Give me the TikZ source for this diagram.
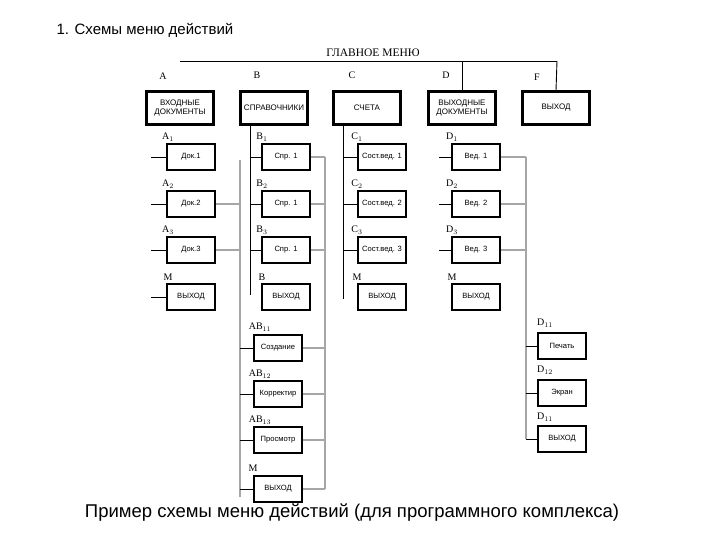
\documentclass[tikz,border=0pt]{standalone}
\usepackage{fontspec}
\setmainfont{Liberation Serif}
\newfontfamily\sfx{Liberation Sans}
\begin{document}
\begin{tikzpicture}[x=1pt,y=-1pt,
  top/.style={draw,line width=2.2pt,minimum width=67pt,minimum height=33pt,inner sep=0pt,font=\sfx\fontsize{8}{9}\selectfont,align=center},
  sub/.style={draw,line width=2.2pt,minimum width=48pt,minimum height=26pt,inner sep=0pt,font=\sfx\fontsize{7.6}{8}\selectfont},
  lab/.style={font=\fontsize{10}{11}\selectfont,inner sep=0pt},
  ln/.style={line width=0.9pt},
  gl/.style={line width=1.2pt,gray!70}]
\useasboundingbox (0,0) rectangle (720,540);
\node[anchor=west,font=\sfx\fontsize{15}{17}\selectfont] (title) at (53,30) {1. Схемы меню действий};
\node[font=\sfx\fontsize{18.5}{21}\selectfont] (cap) at (352,513) {Пример схемы меню действий (для программного комплекса)};
\node[lab,font=\fontsize{11.5}{12}\selectfont] (gm) at (373,53) {ГЛАВНОЕ МЕНЮ};
\coordinate (tl) at (180,61); \coordinate (tr) at (557,61); \coordinate (tm) at (462,61);
\coordinate (xB) at (250,0); \coordinate (xC) at (343,0); \coordinate (xG) at (240,0);
\coordinate (xR) at (325,0); \coordinate (xD) at (526,0);
% top boxes
\node[top] (A) at (180,108) {ВХОДНЫЕ\\ДОКУМЕНТЫ};
\node[top] (B) at (274,108) {СПРАВОЧНИКИ};
\node[top] (C) at (367,108) {СЧЕТА};
\node[top] (D) at (462,108) {ВЫХОДНЫЕ\\ДОКУМЕНТЫ};
\node[top] (F) at (556,108) {ВЫХОД};
\node[lab] (lA) at (163,76) {A};
\node[lab] (lB) at (257,75) {B};
\node[lab] (lC) at (352,75) {C};
\node[lab] (lD) at (446,75) {D};
\node[lab] (lF) at (537,77) {F};
\draw[ln] (tl) -- (tr);
\draw[ln] (tm) -- (D.north);
\draw[ln] (tr) -- (F.north);
% sub boxes
\node[sub] (a1) at (191,157) {Док.1};
\node[sub] (a2) at (191,204) {Док.2};
\node[sub] (a3) at (191,250) {Док.3};
\node[sub] (a4) at (191,297) {ВЫХОД};
\node[sub] (b1) at (286,157) {Спр. 1};
\node[sub] (b2) at (286,204) {Спр. 1};
\node[sub] (b3) at (286,250) {Спр. 1};
\node[sub] (b4) at (286,297) {ВЫХОД};
\node[sub] (c1) at (382,157) {Сост.вед. 1};
\node[sub] (c2) at (382,204) {Сост.вед. 2};
\node[sub] (c3) at (382,250) {Сост.вед. 3};
\node[sub] (c4) at (382,297) {ВЫХОД};
\node[sub] (d1) at (476,157) {Вед. 1};
\node[sub] (d2) at (476,204) {Вед. 2};
\node[sub] (d3) at (476,250) {Вед. 3};
\node[sub] (d4) at (476,297) {ВЫХОД};
\node[sub] (e1) at (278,348) {Создание};
\node[sub] (e2) at (278,394) {Корректир};
\node[sub] (e3) at (278,440) {Просмотр};
\node[sub] (e4) at (278,489) {ВЫХОД};
\node[sub] (f1) at (562,346) {Печать};
\node[sub] (f2) at (562,393) {Экран};
\node[sub] (f3) at (562,439) {ВЫХОД};
% labels
\node[lab] at (168,137) {A$_1$};
\node[lab] at (168,184) {A$_2$};
\node[lab] at (168,230) {A$_3$};
\node[lab] at (168,277) {M};
\node[lab] at (262,137) {B$_1$};
\node[lab] at (262,184) {B$_2$};
\node[lab] at (262,230) {B$_3$};
\node[lab] at (262,277) {B};
\node[lab] at (357,137) {C$_1$};
\node[lab] at (357,184) {C$_2$};
\node[lab] at (357,230) {C$_3$};
\node[lab] at (357,277) {M};
\node[lab] at (452,137) {D$_1$};
\node[lab] at (452,184) {D$_2$};
\node[lab] at (452,230) {D$_3$};
\node[lab] at (452,277) {M};
\node[lab] at (260,327) {AB$_{11}$};
\node[lab] at (260,374) {AB$_{12}$};
\node[lab] at (260,420) {AB$_{13}$};
\node[lab] at (253,468) {M};
\node[lab] at (545,323) {D$_{11}$};
\node[lab] at (545,370) {D$_{12}$};
\node[lab] at (545,417) {D$_{11}$};
% A stubs
\foreach \n in {a1,a2,a3,a4}{\draw[ln] (\n.west) -- ++(-15,0);}
% B trunk
\draw[ln] (B.south -| xB) -- ++(0,169);
\foreach \n in {b1,b2,b3}{\draw[ln] (\n.west) -- (\n.west -| xB);}
% C trunk
\draw[ln] (C.south -| xC) -- ++(0,173);
\foreach \n in {c1,c2,c3}{\draw[ln] (\n.west) -- (\n.west -| xC);}
% D stubs
\foreach \n in {d1,d2,d3}{\draw[ln] (\n.west) -- ++(-12,0);}
% grey trunk AB
\draw[gl] (a1.east -| xG) ++(0,3) -- (e4.west -| xG) -- ++(0,8);
\draw[gl] (a2.east) -- (a2.east -| xG);
\draw[gl] (a3.east) -- (a3.east -| xG);
\foreach \n in {e1,e2,e3,e4}{\draw[ln] (\n.west) -- (\n.west -| xG);}
% right trunk B/AB
\draw[gl] (b1.east -| xR) -- (e4.east -| xR);
\foreach \n in {b1,b2,b3,e1,e2,e3,e4}{\draw[gl] (\n.east) -- (\n.east -| xR);}
% right trunk D
\draw[gl] (d1.east -| xD) -- (f3.west -| xD);
\foreach \n in {d1,d2,d3}{\draw[gl] (\n.east) -- (\n.east -| xD);}
\foreach \n in {f1,f2,f3}{\draw[ln] (\n.west) -- (\n.west -| xD);}
\end{tikzpicture}
\end{document}
